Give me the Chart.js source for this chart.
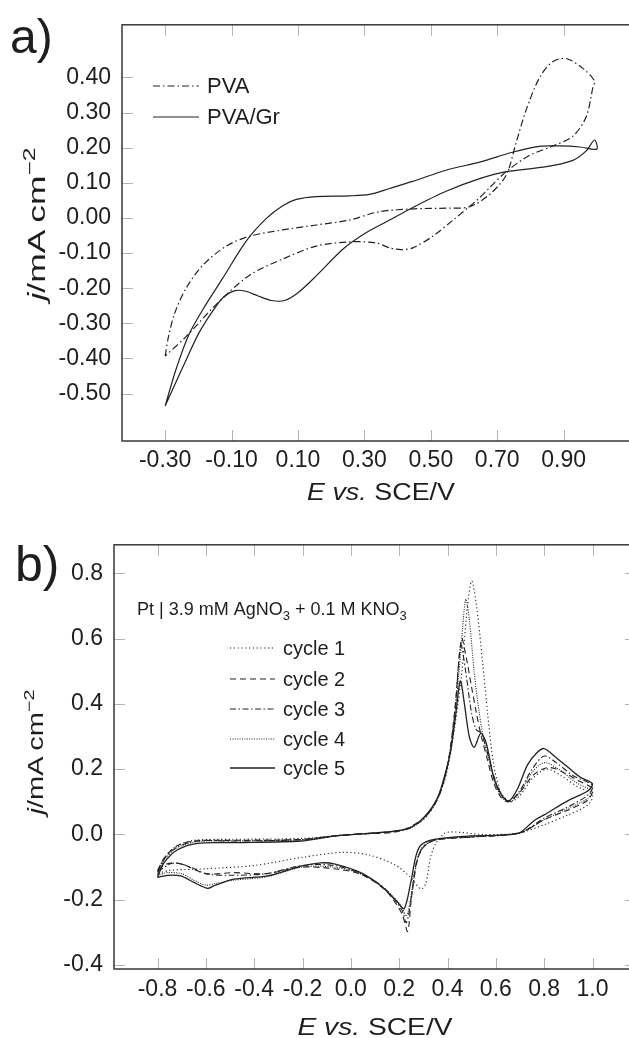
<!DOCTYPE html>
<html>
<head>
<meta charset="utf-8">
<script src="https://cdn.jsdelivr.net/npm/chart.js@4.4.1/dist/chart.umd.min.js"></script>
<style>
html, body { margin: 0; padding: 0; background: #fff; overflow: hidden; width: 629px; height: 1038px; }
canvas { position: absolute; left: 0; }
#chartA { top: 0; }
#chartB { top: 520px; }
</style>
</head>
<body>
<canvas id="chartA" width="660" height="520"></canvas>
<canvas id="chartB" width="660" height="518"></canvas>
<script>
// ---- panel a) data: E (V vs SCE) and j (mA cm-2), loop = forward then reverse scan
const pvaE = [-0.300, -0.290, -0.272, -0.237, -0.187, -0.116, -0.046, 0.054, 0.155, 0.255, 0.345, 0.450, 0.550, 0.617, 0.677, 0.727,
  0.757, 0.787, 0.827, 0.867, 0.908, 0.958, 0.993,
  0.988, 0.968, 0.928, 0.868, 0.797, 0.727, 0.677, 0.637, 0.567, 0.506, 0.446, 0.410, 0.376, 0.335, 0.255, 0.155, 0.054, -0.046, -0.146, -0.237, -0.300];
const pvaJ = [-0.393, -0.338, -0.273, -0.200, -0.135, -0.080, -0.052, -0.034, -0.020, -0.006, 0.018, 0.026, 0.028, 0.032, 0.067, 0.122,
  0.215, 0.307, 0.399, 0.445, 0.454, 0.426, 0.390,
  0.371, 0.288, 0.233, 0.205, 0.178, 0.132, 0.086, 0.049, -0.006, -0.052, -0.085, -0.090, -0.085, -0.071, -0.068, -0.080, -0.117, -0.163, -0.246, -0.338, -0.393];

const pvaGrE = [-0.300, -0.267, -0.227, -0.177, -0.127, -0.056, 0.004, 0.054, 0.095, 0.155, 0.255, 0.315, 0.376, 0.445, 0.546, 0.647, 0.746, 0.827, 0.888, 0.950, 1.000,
  0.993, 0.968, 0.928, 0.848, 0.727, 0.647, 0.546, 0.446, 0.376, 0.300, 0.235, 0.155, 0.100, 0.060, 0.020, -0.020, -0.060, -0.090, -0.120, -0.146, -0.197, -0.247, -0.300];
const pvaGrJ = [-0.535, -0.430, -0.329, -0.246, -0.172, -0.066, -0.002, 0.035, 0.053, 0.061, 0.063, 0.067, 0.084, 0.104, 0.136, 0.159, 0.187, 0.204, 0.205, 0.202, 0.196,
  0.222, 0.191, 0.164, 0.146, 0.132, 0.112, 0.076, 0.030, -0.006, -0.045, -0.089, -0.165, -0.213, -0.235, -0.235, -0.222, -0.208, -0.207, -0.222, -0.250, -0.325, -0.425, -0.535];

const aXTicks = [-0.3, -0.1, 0.1, 0.3, 0.5, 0.7, 0.9];
const aYTicks = [-0.5, -0.4, -0.3, -0.2, -0.1, 0, 0.1, 0.2, 0.3, 0.4];

// ---- panel b) data: five cycles, Pt | 3.9 mM AgNO3 + 0.1 M KNO3
const cycleLabels = ['cycle 1', 'cycle 2', 'cycle 3', 'cycle 4', 'cycle 5'];

const cycle1E = [-0.8, -0.77, -0.72, -0.65, -0.5, -0.2, 0.0, 0.2, 0.3, 0.36, 0.40, 0.43, 0.46, 0.48, 0.50, 0.52, 0.545, 0.566, 0.59, 0.62, 0.66, 0.70, 0.75, 0.81, 0.87, 0.93, 1.0,
  0.98, 0.9, 0.8, 0.7, 0.55, 0.42, 0.386, 0.35, 0.33, 0.31, 0.29, 0.248, 0.18, 0.07, -0.04, -0.2, -0.4, -0.6, -0.75, -0.8];
const cycle1J = [-0.12, -0.07, -0.035, -0.018, -0.015, -0.012, 0.0, 0.012, 0.045, 0.11, 0.2, 0.33, 0.5, 0.68, 0.776, 0.70, 0.53, 0.37, 0.22, 0.13, 0.10, 0.12, 0.17, 0.20, 0.18, 0.15, 0.12,
  0.09, 0.06, 0.03, 0.005, 0.0, 0.008, 0.003, -0.03, -0.07, -0.15, -0.167, -0.132, -0.092, -0.062, -0.055, -0.07, -0.095, -0.105, -0.11, -0.12];

const cycle2E = [-0.8, -0.77, -0.72, -0.65, -0.5, -0.2, 0.0, 0.2, 0.3, 0.36, 0.40, 0.43, 0.458, 0.478, 0.50, 0.52, 0.54, 0.565, 0.59, 0.62, 0.65, 0.70, 0.76, 0.82, 0.88, 0.94, 1.0,
  0.98, 0.9, 0.8, 0.7, 0.5, 0.35, 0.3, 0.27, 0.25, 0.235, 0.215, 0.19, 0.138, 0.041, -0.07, -0.207, -0.35, -0.483, -0.6, -0.704, -0.76, -0.8];
const cycle2J = [-0.11, -0.07, -0.035, -0.02, -0.018, -0.015, 0.0, 0.01, 0.05, 0.11, 0.21, 0.38, 0.60, 0.54, 0.45, 0.37, 0.30, 0.23, 0.16, 0.115, 0.10, 0.13, 0.185, 0.205, 0.19, 0.165, 0.14,
  0.105, 0.075, 0.045, 0.005, -0.008, -0.017, -0.04, -0.09, -0.2, -0.297, -0.25, -0.215, -0.167, -0.122, -0.105, -0.1, -0.12, -0.117, -0.12, -0.09, -0.09, -0.11];

const cycle3E = [-0.8, -0.773, -0.717, -0.635, -0.483, -0.207, -0.069, 0.069, 0.235, 0.303, 0.359, 0.40, 0.43, 0.455, 0.475, 0.50, 0.52, 0.54, 0.565, 0.60, 0.63, 0.655, 0.70, 0.75, 0.80, 0.85, 0.92, 1.0,
  0.98, 0.9, 0.8, 0.7, 0.5, 0.35, 0.3, 0.275, 0.255, 0.23, 0.21, 0.14, 0.04, -0.07, -0.2, -0.35, -0.5, -0.6, -0.68, -0.74, -0.8];
const cycle3J = [-0.115, -0.075, -0.038, -0.02, -0.02, -0.016, -0.004, 0.003, 0.017, 0.05, 0.11, 0.21, 0.37, 0.58, 0.50, 0.37, 0.32, 0.31, 0.25, 0.16, 0.115, 0.10, 0.135, 0.2, 0.24, 0.22, 0.18, 0.15,
  0.12, 0.085, 0.05, 0.005, -0.008, -0.017, -0.038, -0.08, -0.17, -0.27, -0.23, -0.165, -0.12, -0.095, -0.095, -0.12, -0.125, -0.12, -0.095, -0.088, -0.115];

const cycle4E = [-0.8, -0.773, -0.717, -0.635, -0.483, -0.207, -0.069, 0.069, 0.235, 0.303, 0.359, 0.40, 0.43, 0.455, 0.475, 0.49, 0.51, 0.53, 0.55, 0.575, 0.60, 0.63, 0.66, 0.70, 0.75, 0.80, 0.86, 0.93, 1.0,
  0.98, 0.9, 0.8, 0.7, 0.5, 0.35, 0.3, 0.275, 0.255, 0.23, 0.205, 0.13, 0.04, -0.07, -0.2, -0.35, -0.483, -0.56, -0.6, -0.65, -0.7, -0.76, -0.8];
const cycle4J = [-0.125, -0.08, -0.04, -0.022, -0.02, -0.016, -0.004, 0.003, 0.016, 0.05, 0.11, 0.21, 0.36, 0.56, 0.72, 0.66, 0.50, 0.38, 0.29, 0.22, 0.15, 0.11, 0.10, 0.13, 0.19, 0.22, 0.20, 0.16, 0.13,
  0.11, 0.08, 0.045, 0.005, -0.006, -0.016, -0.035, -0.075, -0.16, -0.25, -0.215, -0.16, -0.12, -0.1, -0.1, -0.13, -0.14, -0.15, -0.155, -0.14, -0.12, -0.117, -0.125];

const cycle5E = [-0.8, -0.773, -0.717, -0.635, -0.483, -0.207, -0.069, 0.069, 0.235, 0.303, 0.359, 0.393, 0.414, 0.435, 0.453, 0.47, 0.49, 0.51, 0.538, 0.56, 0.593, 0.625, 0.655, 0.69, 0.731, 0.77, 0.80, 0.85, 0.90, 0.95, 1.0,
  0.98, 0.897, 0.8, 0.759, 0.69, 0.483, 0.345, 0.29, 0.269, 0.248, 0.221, 0.193, 0.124, 0.041, -0.069, -0.124, -0.207, -0.345, -0.483, -0.566, -0.593, -0.649, -0.704, -0.759, -0.8];
const cycle5J = [-0.13, -0.087, -0.047, -0.027, -0.025, -0.02, -0.005, 0.003, 0.018, 0.053, 0.113, 0.193, 0.26, 0.372, 0.47, 0.40, 0.30, 0.267, 0.31, 0.28, 0.17, 0.12, 0.103, 0.14, 0.213, 0.25, 0.263, 0.235, 0.205, 0.175, 0.155,
  0.133, 0.103, 0.06, 0.043, 0.003, -0.005, -0.015, -0.032, -0.067, -0.147, -0.227, -0.207, -0.157, -0.117, -0.09, -0.087, -0.097, -0.127, -0.137, -0.157, -0.165, -0.147, -0.127, -0.125, -0.132];

const bXTicks = [-0.8, -0.6, -0.4, -0.2, 0, 0.2, 0.4, 0.6, 0.8, 1.0];
const bYTicks = [-0.4, -0.2, 0, 0.2, 0.4, 0.6, 0.8];

const FONT = '"Liberation Sans", Arial, Helvetica, sans-serif';
const INK = '#1e1e1e';
Chart.defaults.font.family = FONT;
Chart.defaults.color = INK;

function toPoints(xs, ys) {
  return xs.map((x, i) => ({ x: x, y: ys[i] }));
}

// draw a row of text pieces with different fonts, optionally stretched to a width
function drawRuns(ctx, runs, x, y, targetW) {
  let w = 0;
  runs.forEach(r => { ctx.font = r.font; r.w = ctx.measureText(r.text).width; w += r.w; });
  const sx = targetW ? targetW / w : 1;
  ctx.save();
  ctx.translate(x, y);
  ctx.scale(sx, 1);
  ctx.textAlign = 'left';
  ctx.textBaseline = 'alphabetic';
  let cx = -w / 2;
  runs.forEach(r => { ctx.font = r.font; ctx.fillText(r.text, cx, r.dy || 0); cx += r.w; });
  ctx.restore();
}

// frame, inward tick marks, titles, panel letter and legend
const framePlugin = {
  id: 'frame',
  beforeDatasetsDraw(chart, args, o) {
    const { ctx, chartArea: a, scales } = chart;
    ctx.save();
    ctx.strokeStyle = '#b4b4b4';
    ctx.lineWidth = 1;
    ctx.beginPath();
    o.xTicks.forEach(v => {
      const px = Math.round(scales.x.getPixelForValue(v)) + 0.5;
      ctx.moveTo(px, a.bottom); ctx.lineTo(px, a.bottom - o.tickLen);
      ctx.moveTo(px, a.top); ctx.lineTo(px, a.top + o.tickLen);
    });
    o.yTicks.forEach(v => {
      const py = Math.round(scales.y.getPixelForValue(v)) + 0.5;
      ctx.moveTo(a.left, py); ctx.lineTo(a.left + o.tickLen, py);
      ctx.moveTo(a.right, py); ctx.lineTo(a.right - o.tickLen, py);
    });
    ctx.stroke();
    ctx.restore();
  },
  afterDraw(chart, args, o) {
    const { ctx, chartArea: a } = chart;
    ctx.save();
    ctx.strokeStyle = '#2a2a2a';
    ctx.lineWidth = 1.4;
    ctx.strokeRect(a.left, a.top, a.right - a.left, a.bottom - a.top);

    ctx.fillStyle = INK;
    // panel letter
    ctx.font = o.panel.size + 'px ' + FONT;
    ctx.textAlign = 'left';
    ctx.textBaseline = 'alphabetic';
    ctx.fillText(o.panel.text, o.panel.x, o.panel.y);

    // x title: E vs. SCE/V
    const s = o.xTitle.size;
    drawRuns(ctx, [
      { text: 'E vs.', font: 'italic ' + s + 'px ' + FONT },
      { text: ' SCE/V', font: s + 'px ' + FONT }
    ], (a.left + a.right) / 2, o.xTitle.y, o.xTitle.width);

    // y title: j/mA cm-2 (rotated)
    const t = o.yTitle.size;
    ctx.save();
    ctx.translate(o.yTitle.x, o.yTitle.cy);
    ctx.rotate(-Math.PI / 2);
    drawRuns(ctx, [
      { text: 'j', font: 'italic ' + t + 'px ' + FONT },
      { text: '/mA\u2009cm', font: t + 'px ' + FONT },
      { text: '\u22122', font: Math.round(t * 0.7) + 'px ' + FONT, dy: -t * 0.42 }
    ], 0, 0, o.yTitle.length);
    ctx.restore();

    // note (panel b)
    if (o.note) {
      const n = o.note.size, sub = Math.round(n * 0.7) + 'px ' + FONT, reg = n + 'px ' + FONT;
      const runs = [
        { text: 'Pt | 3.9 mM AgNO', font: reg },
        { text: '3', font: sub, dy: n * 0.28 },
        { text: ' + 0.1 M KNO', font: reg },
        { text: '3', font: sub, dy: n * 0.28 }
      ];
      let w = 0;
      runs.forEach(r => { ctx.font = r.font; w += ctx.measureText(r.text).width; });
      drawRuns(ctx, runs, o.note.x + w / 2, o.note.y, null);
    }

    // legend drawn from the datasets
    const L = o.legend;
    chart.data.datasets.forEach((ds, i) => {
      const y = L.ys[i];
      ctx.save();
      ctx.strokeStyle = ds.borderColor;
      ctx.lineWidth = ds.borderWidth;
      ctx.setLineDash(ds.borderDash || []);
      ctx.beginPath();
      ctx.moveTo(L.x0, y); ctx.lineTo(L.x1, y);
      ctx.stroke();
      ctx.restore();
      ctx.font = L.size + 'px ' + FONT;
      ctx.textBaseline = 'middle';
      ctx.textAlign = 'left';
      ctx.fillText(ds.label, L.tx, y + 1);
    });
    ctx.restore();
  }
};

function lineSet(label, xs, ys, dash, width) {
  return {
    label: label,
    data: toPoints(xs, ys),
    showLine: true,
    borderColor: '#222',
    borderWidth: width,
    borderDash: dash,
    pointRadius: 0,
    tension: 0.3,
    fill: false
  };
}

function makeChart(id, cfg) {
  return new Chart(document.getElementById(id), {
    type: 'scatter',
    data: { datasets: cfg.datasets },
    options: {
      responsive: false,
      animation: false,
      devicePixelRatio: 1,
      layout: { padding: cfg.padding },
      plugins: {
        legend: { display: false },
        tooltip: { enabled: false },
        frame: cfg.frame
      },
      scales: {
        x: {
          type: 'linear', min: cfg.xMin, max: cfg.xMax,
          grid: { display: false, drawTicks: false },
          border: { display: false },
          afterBuildTicks: s => { s.ticks = cfg.frame.xTicks.map(v => ({ value: v })); },
          afterFit: s => { s.height = cfg.xHeight; },
          ticks: { padding: cfg.xPad, font: { size: 23 }, color: INK, maxRotation: 0, autoSkip: false,
            callback: v => v.toFixed(cfg.xDigits) }
        },
        y: {
          type: 'linear', min: cfg.yMin, max: cfg.yMax,
          grid: { display: false, drawTicks: false },
          border: { display: false },
          afterBuildTicks: s => { s.ticks = cfg.frame.yTicks.map(v => ({ value: v })); },
          afterFit: s => { s.width = cfg.yWidth; },
          ticks: { padding: cfg.yPad, font: { size: 23 }, color: INK, autoSkip: false,
            callback: v => v.toFixed(cfg.yDigits) }
        }
      }
    },
    plugins: [framePlugin]
  });
}

// panel a)
makeChart('chartA', {
  datasets: [
    lineSet('PVA', pvaE, pvaJ, [7, 3, 1.5, 3], 1.2),
    lineSet('PVA/Gr', pvaGrE, pvaGrJ, [], 1.2)
  ],
  padding: { top: 12, right: 20, left: 0, bottom: 0 },
  xMin: -0.43, xMax: 1.13, yMin: -0.635, yMax: 0.55,
  xHeight: 79, yWidth: 122, xPad: 6, yPad: 11, xDigits: 2, yDigits: 2,
  frame: {
    xTicks: aXTicks, yTicks: aYTicks, tickLen: 11,
    panel: { text: 'a)', x: 10, y: 53, size: 48 },
    xTitle: { y: 500, width: 148, size: 23 },
    yTitle: { x: 45, cy: 224, length: 153, size: 23 },
    legend: { x0: 153, x1: 199, tx: 207, ys: [86, 117], size: 22 },
    note: null
  }
});

// panel b)
makeChart('chartB', {
  datasets: [
    lineSet(cycleLabels[0], cycle1E, cycle1J, [1.2, 2.6], 1.1),
    lineSet(cycleLabels[1], cycle2E, cycle2J, [6, 4], 1.1),
    lineSet(cycleLabels[2], cycle3E, cycle3J, [6, 2.5, 1.5, 2.5], 1.1),
    lineSet(cycleLabels[3], cycle4E, cycle4J, [1, 1.4], 1.1),
    lineSet(cycleLabels[4], cycle5E, cycle5J, [], 1.3)
  ],
  padding: { top: 15, right: 24, left: 0, bottom: 0 },
  xMin: -0.98, xMax: 1.18, yMin: -0.412, yMax: 0.887,
  xHeight: 69, yWidth: 114, xPad: 7, yPad: 11, xDigits: 1, yDigits: 1,
  frame: {
    xTicks: bXTicks, yTicks: bYTicks, tickLen: 11,
    panel: { text: 'b)', x: 15, y: 61, size: 50 },
    xTitle: { y: 515, width: 155, size: 24 },
    yTitle: { x: 43, cy: 232, length: 125, size: 22 },
    legend: { x0: 230, x1: 275, tx: 283, ys: [128, 159, 189, 219, 248], size: 20 },
    note: { x: 137, y: 95, size: 18 }
  }
});
</script>
</body>
</html>
